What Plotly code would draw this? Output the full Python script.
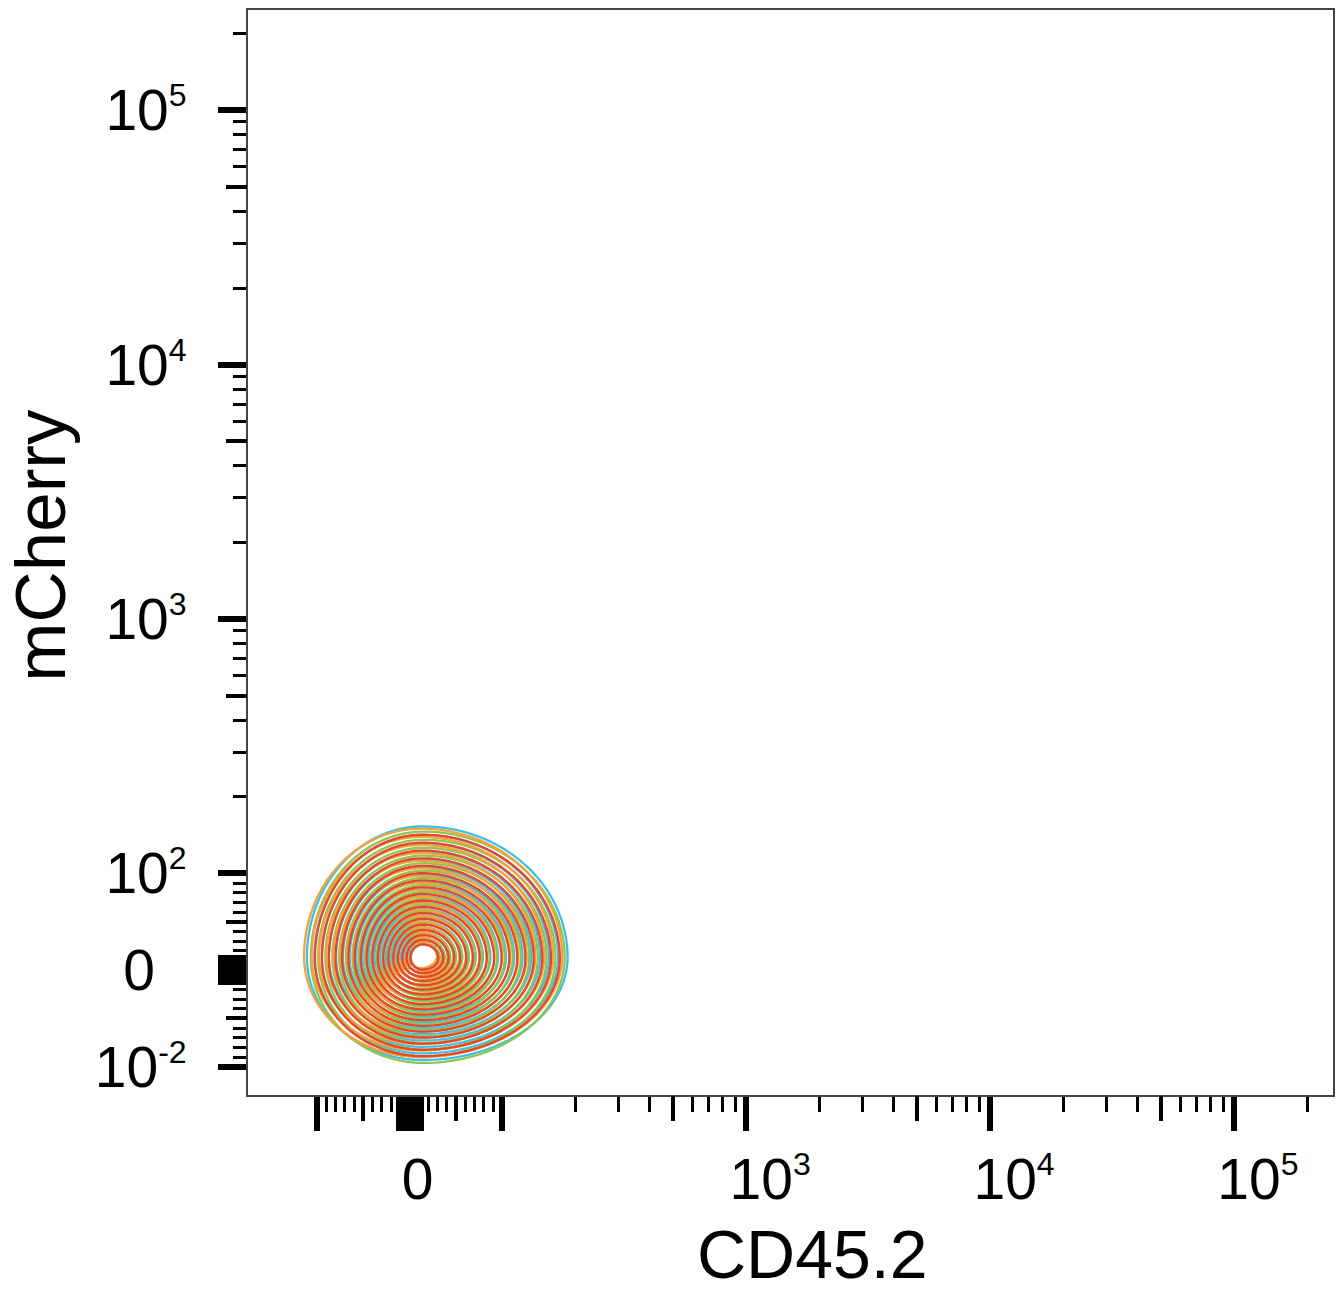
import numpy as np
import plotly.graph_objects as go

# ---------------- data (values in channel units) ----------------
sample_names = ["S1", "S2", "S3", "S4"]
sample_colors = ["#3fbfe8", "#8cc552", "#f4a23a", "#e8452e"]
center_x = [14, 15, 12, 14]          # CD45.2 at density peak
center_y = [13, 13, 14, 12]          # mCherry at density peak
outer_left = [-110, -106, -113, -102]   # CD45.2 at outermost contour, left
outer_right = [185, 180, 176, 172]      # CD45.2 at outermost contour, right
outer_top = [153, 146, 150, 142]        # mCherry at outermost contour, top
outer_bottom = [-93, -96, -90, -89]     # mCherry at outermost contour, bottom

SUP = "<sup><span style='font-size:32px'>{}</span></sup>"
NB = "\u00a0"
x_major_vals = [-100, -12, -6, 0, 6, 12, 100, 1e3, 1e4, 1e5]
x_major_text = ["", "", "", NB + "0", "", "", "",
                NB * 3 + "10" + SUP.format(3), NB * 3 + "10" + SUP.format(4),
                NB * 3 + "10" + SUP.format(5)]
y_major_vals = [-100, -12, -6, 0, 6, 12, 100, 1e3, 1e4, 1e5]
y_major_text = ["10" + SUP.format("-2"), "", "", "0" + NB * 2, "", "",
                "10" + SUP.format(2), "10" + SUP.format(3), "10" + SUP.format(4), "10" + SUP.format(5)]
medium_vals = [-50, 50, 500, 5000, 50000]
minor_vals = ([-200, -90, -80, -70, -60, -40, -30, -20, 20, 30, 40, 60, 70, 80, 90]
              + [200, 300, 400, 600, 700, 800, 900]
              + [2000, 3000, 4000, 6000, 7000, 8000, 9000]
              + [20000, 30000, 40000, 60000, 70000, 80000, 90000, 200000])

x_title = "CD45.2"
y_title = "mCherry"

# ---------------- biexponential-like display transform ----------------
LIN = 0.38  # display width of the linear region 0..100 (in decades)


def T(v):
    v = np.asarray(v, dtype=float)
    a = np.abs(v)
    return np.where(a <= 100, LIN * v / 100.0,
                    np.sign(v) * (LIN + np.log10(np.maximum(a, 1e-9) / 100.0)))


FONT = "Liberation Sans, Arial, sans-serif"

fig = go.Figure()

gx = np.arange(-0.66, 1.3, 0.02)
gy = np.arange(-0.49, 1.1, 0.02)
GX, GY = np.meshgrid(gx, gy)

N_LEVELS = 18
Z0 = 0.22
for i in range(len(sample_names)):
    cx, cy = float(T(center_x[i])), float(T(center_y[i]))
    sl = cx - float(T(outer_left[i]))
    sr = float(T(outer_right[i])) - cx
    st = float(T(outer_top[i])) - cy
    sb = cy - float(T(outer_bottom[i]))
    dx = GX - cx
    dy = GY - cy
    sx = np.where(dx < 0, sl, sr)
    sy = np.where(dy < 0, sb, st)
    r = np.sqrt((dx / sx) ** 2 + (dy / sy) ** 2)
    z = r ** 0.7
    fig.add_trace(go.Contour(
        x=gx, y=gy, z=z,
        contours=dict(coloring="lines", start=Z0, end=1.0001, size=(1.0 - Z0) / (N_LEVELS - 1)),
        colorscale=[[0, sample_colors[i]], [1, sample_colors[i]]],
        line=dict(width=2.3, smoothing=0),
        showscale=False, hoverinfo="skip", name=sample_names[i],
    ))

# empty trace to host the overlay axes used for the medium ticks
fig.add_trace(go.Scatter(x=[], y=[], xaxis="x2", yaxis="y2", showlegend=False, hoverinfo="skip"))

XR = [-0.663, 3.785]
YR = [-0.491, 3.774]

tick_font = dict(family=FONT, size=57, color="black")

fig.update_layout(
    width=1342, height=1294,
    margin=dict(l=248, r=7, t=10, b=199),
    paper_bgcolor="white", plot_bgcolor="white",
    showlegend=False,
    xaxis=dict(
        range=XR, showgrid=False, zeroline=False,
        showline=True, linecolor="#444444", linewidth=2, mirror=True,
        ticks="outside", tickvals=T(x_major_vals).tolist(), ticktext=x_major_text,
        ticklen=34, tickwidth=6, tickcolor="black", tickfont=tick_font,
        ticklabelstandoff=0,
        minor=dict(tickvals=T(minor_vals).tolist(), ticks="outside", ticklen=15,
                   tickwidth=3, tickcolor="black", showgrid=False),
    ),
    yaxis=dict(
        range=YR, showgrid=False, zeroline=False,
        showline=True, linecolor="#444444", linewidth=2, mirror=True,
        ticks="outside", tickvals=T(y_major_vals).tolist(), ticktext=y_major_text,
        ticklen=28, tickwidth=6, tickcolor="black", tickfont=tick_font,
        ticklabelstandoff=20,
        minor=dict(tickvals=T(minor_vals).tolist(), ticks="outside", ticklen=13,
                   tickwidth=3, tickcolor="black", showgrid=False),
    ),
    xaxis2=dict(
        range=XR, overlaying="x", anchor="y2", side="bottom", showgrid=False, zeroline=False,
        showline=False, ticks="outside", tickvals=T(medium_vals).tolist(),
        ticklen=25, tickwidth=4, tickcolor="black", showticklabels=False,
    ),
    yaxis2=dict(
        range=YR, overlaying="y", anchor="x2", side="left", showgrid=False, zeroline=False,
        showline=False, ticks="outside", tickvals=T(medium_vals).tolist(),
        ticklen=21, tickwidth=4, tickcolor="black", showticklabels=False,
    ),
    annotations=[
        dict(text=x_title, xref="paper", yref="paper", x=0.52, y=-0.147,
             xanchor="center", yanchor="middle", showarrow=False,
             font=dict(family=FONT, size=68, color="black")),
        dict(text=y_title, xref="paper", yref="paper", x=-0.191, y=0.507,
             xanchor="center", yanchor="middle", textangle=-90, showarrow=False,
             font=dict(family=FONT, size=71, color="black")),
    ],
)

fig.write_html("out.html")
